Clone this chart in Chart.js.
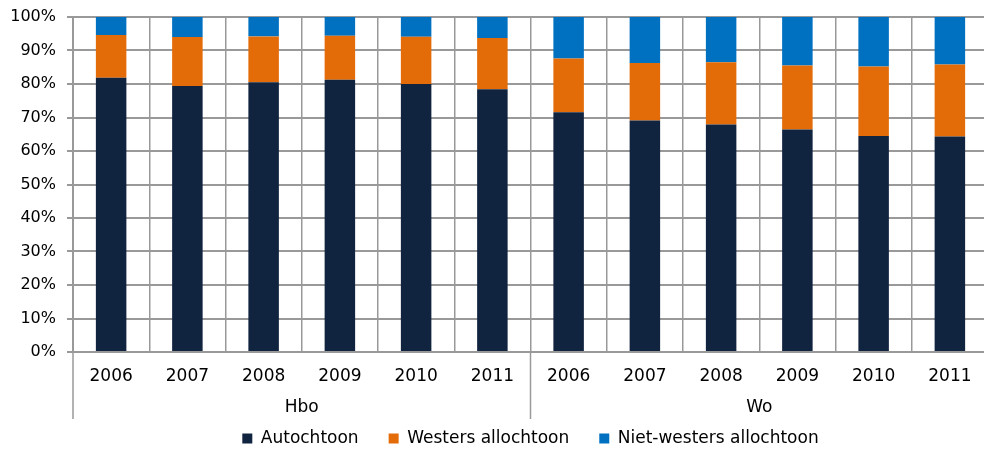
<!DOCTYPE html>
<html>
<head>
<meta charset="utf-8">
<script src="https://cdn.jsdelivr.net/npm/chart.js@4/dist/chart.umd.min.js"></script>
<style>
  html, body { margin: 0; padding: 0; background: #fff; overflow: hidden; }
  #wrap { width: 988px; height: 457px; }
</style>
</head>
<body>
<div id="wrap"><canvas id="chart"></canvas></div>
<script>
// data (percentages)
var groups = ["Hbo", "Wo"];
var years = ["2006", "2007", "2008", "2009", "2010", "2011"];
var autochtoon = [81.9, 79.4, 80.5, 81.3, 80.0, 78.4, 71.6, 69.1, 67.9, 66.4, 64.5, 64.3];
var westers = [12.7, 14.6, 13.7, 13.1, 14.1, 15.3, 16.0, 17.2, 18.6, 19.1, 20.7, 21.5];
var nietWesters = [5.4, 6.0, 5.8, 5.6, 5.9, 6.3, 12.4, 13.7, 13.5, 14.5, 14.8, 14.2];
var yTicks = [0, 10, 20, 30, 40, 50, 60, 70, 80, 90, 100];

var labels = [];
groups.forEach(function () {
  years.forEach(function (y) { labels.push(y); });
});

var font = "Verdana, 'DejaVu Sans', sans-serif";
var gridColor = "#999999";

// second level of the category axis: group names and separators
var groupAxis = {
  id: "groupAxis",
  afterDraw: function (chart) {
    var ctx = chart.ctx;
    var x = chart.scales.x;
    var area = chart.chartArea;
    var step = x.width / labels.length;
    ctx.save();
    ctx.strokeStyle = gridColor;
    ctx.lineWidth = 1.5;
    ctx.fillStyle = "#000";
    ctx.font = "17px " + font;
    ctx.textAlign = "center";
    ctx.textBaseline = "middle";
    groups.forEach(function (g, gi) {
      var i0 = gi * years.length;
      var i1 = i0 + years.length - 1;
      var left = x.getPixelForValue(i0) - step / 2;
      ctx.beginPath();
      ctx.moveTo(left, area.bottom);
      ctx.lineTo(left, area.bottom + 67);
      ctx.stroke();
      var cx = (x.getPixelForValue(i0) + x.getPixelForValue(i1)) / 2;
      ctx.fillText(g, cx, area.bottom + 56);
    });
    ctx.restore();
  }
};

var ctx = document.getElementById("chart").getContext("2d");
var chart = new Chart(ctx, {
  type: "bar",
  data: {
    labels: labels,
    datasets: [
      { label: "Autochtoon", data: autochtoon, backgroundColor: "#10243F" },
      { label: "Westers allochtoon", data: westers, backgroundColor: "#E36C09" },
      { label: "Niet-westers allochtoon", data: nietWesters, backgroundColor: "#0070C0" }
    ]
  },
  options: {
    responsive: true,
    maintainAspectRatio: false,
    animation: false,
    layout: { padding: 0 },
    datasets: {
      bar: { categoryPercentage: 1, barPercentage: 0.4 }
    },
    plugins: {
      tooltip: { enabled: false },
      legend: {
        position: "bottom",
        fullSize: false,
        labels: {
          font: { family: font, size: 17 },
          color: "#000",
          boxWidth: 10,
          boxHeight: 10,
          padding: 30
        }
      }
    },
    scales: {
      x: {
        stacked: true,
        grid: { color: gridColor, lineWidth: 1.5, drawTicks: false, offset: true },
        border: { color: gridColor, width: 2 },
        ticks: {
          font: { family: font, size: 17 },
          color: "#000",
          maxRotation: 0,
          autoSkip: false,
          padding: 14
        },
        afterFit: function (scale) { scale.height = 48; }
      },
      y: {
        stacked: true,
        min: 0,
        max: 100,
        afterBuildTicks: function (scale) {
          scale.ticks = yTicks.map(function (v) { return { value: v }; });
        },
        grid: { color: gridColor, lineWidth: 2, tickLength: 6 },
        border: { color: gridColor, width: 2 },
        ticks: {
          font: { family: font, size: 16, lineHeight: 0.75 },
          color: "#000",
          padding: 11,
          callback: function (v) { return v + "%"; }
        },
        afterFit: function (scale) { scale.width = 73; }
      }
    }
  },
  plugins: [groupAxis]
});
</script>
</body>
</html>
